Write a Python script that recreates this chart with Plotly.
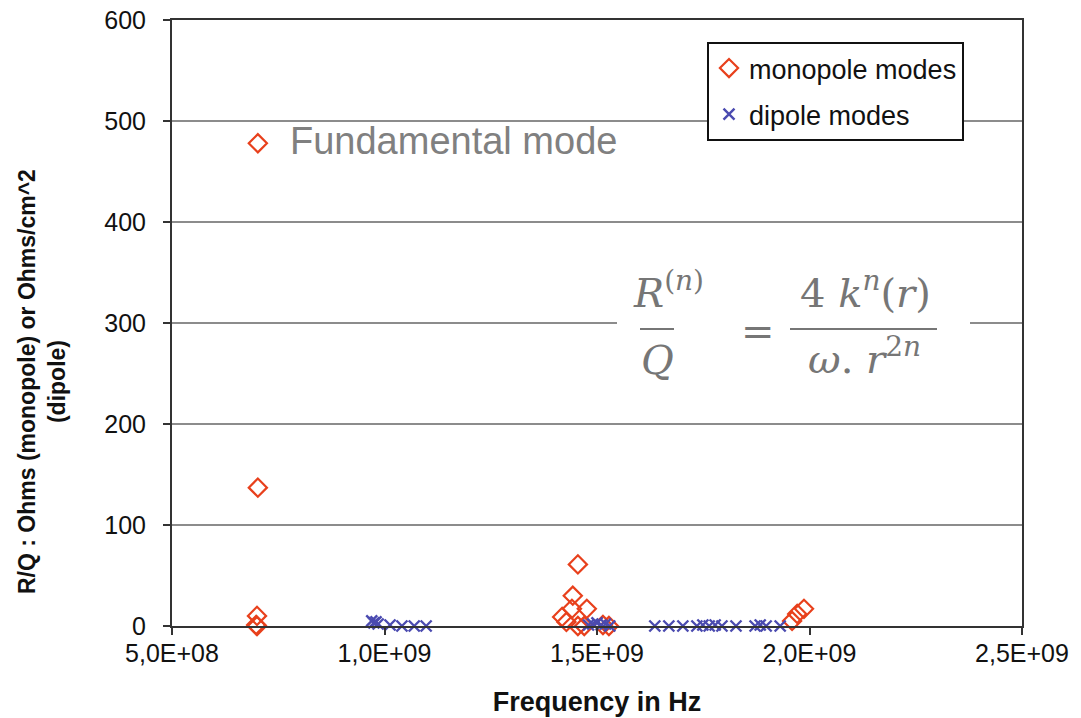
import plotly.graph_objects as go

# Monopole modes (frequency in Hz, R/Q in Ohms)
mono_freq = [7.02e8, 7.02e8, 7.00e8, 6.98e8, 7.00e8,
             1.455e9, 1.443e9, 1.441e9, 1.476e9, 1.418e9, 1.428e9,
             1.455e9, 1.470e9, 1.514e9, 1.528e9,
             1.959e9, 1.971e9, 1.987e9]
mono_rq = [478, 137, 10, 1, 0,
           61, 30, 17, 17, 9, 4,
           0, 0, 1, 0,
           5, 12, 17]

# Dipole modes (frequency in Hz, R/Q in Ohms/cm^2)
dip_freq = [0.970e9, 0.975e9, 0.980e9, 0.985e9, 1.013e9, 1.041e9, 1.070e9, 1.098e9,
            1.480e9, 1.490e9, 1.500e9, 1.510e9, 1.520e9, 1.530e9,
            1.636e9, 1.669e9, 1.702e9, 1.735e9, 1.749e9, 1.764e9, 1.778e9,
            1.794e9, 1.827e9, 1.872e9, 1.884e9, 1.898e9, 1.931e9]
dip_rq = [5, 3, 4, 2, 1, 0, 0, 0,
          1, 2, 3, 1, 2, 0,
          0, 0, 0, 0, 1, 0, 1,
          0, 0, 0, 1, 0, 0]

x_tickvals = [5e8, 1e9, 1.5e9, 2e9, 2.5e9]
x_ticktext = ["5,0E+08", "1,0E+09", "1,5E+09", "2,0E+09", "2,5E+09"]

RED = "#e8401c"
BLUE = "#4b4bb0"
GRAY_TXT = "#808080"
FORM_GRAY = "#767676"

W, H = 1081, 718
# plot area in window pixels
L, R, T, B = 172, 1022, 20, 626

fig = go.Figure()
fig.add_trace(go.Scatter(
    x=mono_freq, y=mono_rq, mode="markers", name="monopole modes", legendgroup="m",
    marker=dict(symbol="diamond-open", size=14, color=RED, line=dict(width=2.2, color=RED)),
    cliponaxis=False))
fig.add_trace(go.Scatter(
    x=dip_freq, y=dip_rq, mode="markers", name="dipole modes", legendgroup="d",
    marker=dict(symbol="x-thin-open", size=11, color=BLUE, line=dict(width=2.4, color=BLUE)),
    cliponaxis=False))


def px(xp):
    return (xp - L) / (R - L)


def py(yp):
    return (B - yp) / (B - T)


# White patch behind the formula (interrupts the 300 gridline)
fig.add_shape(type="rect", xref="paper", yref="paper",
              x0=px(617), x1=px(970), y0=py(395), y1=py(255),
              fillcolor="white", line=dict(width=0), layer="above")
# Fraction bars
fig.add_shape(type="line", xref="paper", yref="paper",
              x0=px(640), x1=px(674), y0=py(329), y1=py(329),
              line=dict(color=FORM_GRAY, width=2), layer="above")
fig.add_shape(type="line", xref="paper", yref="paper",
              x0=px(790), x1=px(937), y0=py(329), y1=py(329),
              line=dict(color=FORM_GRAY, width=2), layer="above")

FF = "DejaVu Serif"
fsz = 40
ann = [
    dict(text="<i>R</i><sup>(<i>n</i>)</sup>", x=px(668), y=py(290)),
    dict(text="<i>Q</i>", x=px(657), y=py(360)),
    dict(text="=", x=px(758), y=py(331)),
    dict(text="4 <i>k</i><sup><i>n</i></sup>(<i>r</i>)", x=px(865), y=py(290)),
    dict(text="<i>ω</i>. <i>r</i><sup>2<i>n</i></sup>", x=px(864), y=py(356)),
]
for a in ann:
    fig.add_annotation(text=a["text"], x=a["x"], y=a["y"], xref="paper", yref="paper",
                       showarrow=False, xanchor="center", yanchor="middle",
                       font=dict(family=FF, size=fsz, color=FORM_GRAY))

fig.add_annotation(text="Fundamental mode", x=px(288), y=py(141), xref="paper", yref="paper",
                   showarrow=False, xanchor="left", yanchor="middle",
                   font=dict(family="Liberation Sans, Arial", size=38, color=GRAY_TXT))

# Y axis title as annotation for precise placement
fig.add_annotation(text="<b>R/Q : Ohms (monopole) or Ohms/cm^2<br>(dipole)</b>",
                   x=px(42), y=py(382), xref="paper", yref="paper",
                   xanchor="center", yanchor="middle", textangle=-90, showarrow=False,
                   font=dict(family="Liberation Sans, Arial", size=23, color="#111111"))

fig.update_layout(
    width=W, height=H,
    margin=dict(l=L, r=W - R, t=T, b=H - B, pad=0),
    paper_bgcolor="white", plot_bgcolor="white",
    font=dict(family="Liberation Sans, Arial", color="#111111"),
    legend=dict(x=px(707), y=py(42), xanchor="left", yanchor="top",
                bordercolor="#111111", borderwidth=2, bgcolor="white",
                font=dict(size=27, color="#111111"), itemwidth=30,
                tracegroupgap=8),
    showlegend=True,
)
fig.update_xaxes(
    range=[5e8, 2.5e9], tickvals=x_tickvals, ticktext=x_ticktext,
    showgrid=False, zeroline=False, automargin=False,
    showline=True, linecolor="#333333", linewidth=2, mirror=True,
    ticks="outside", ticklen=7, tickcolor="#333333", tickwidth=1.5,
    ticklabelstandoff=-3, ticklabeloverflow="allow",
    tickfont=dict(size=25, color="#111111"),
    title=dict(text="<b>Frequency in Hz</b>", font=dict(size=27, color="#111111"), standoff=26),
)
fig.update_yaxes(
    range=[0, 600], dtick=100,
    showgrid=True, gridcolor="#8c8c8c", gridwidth=1.5, zeroline=False, automargin=False,
    showline=True, linecolor="#333333", linewidth=2, mirror=True,
    ticks="outside", ticklen=7, tickcolor="#333333", tickwidth=1.5,
    ticklabelstandoff=12, ticklabeloverflow="allow",
    tickfont=dict(size=25, color="#111111"),
)

# remove the default page margin so the figure sits at the window's top-left corner
fig.write_html("out.html", config={"displayModeBar": False},
               post_script="document.body.style.margin='0px';")
